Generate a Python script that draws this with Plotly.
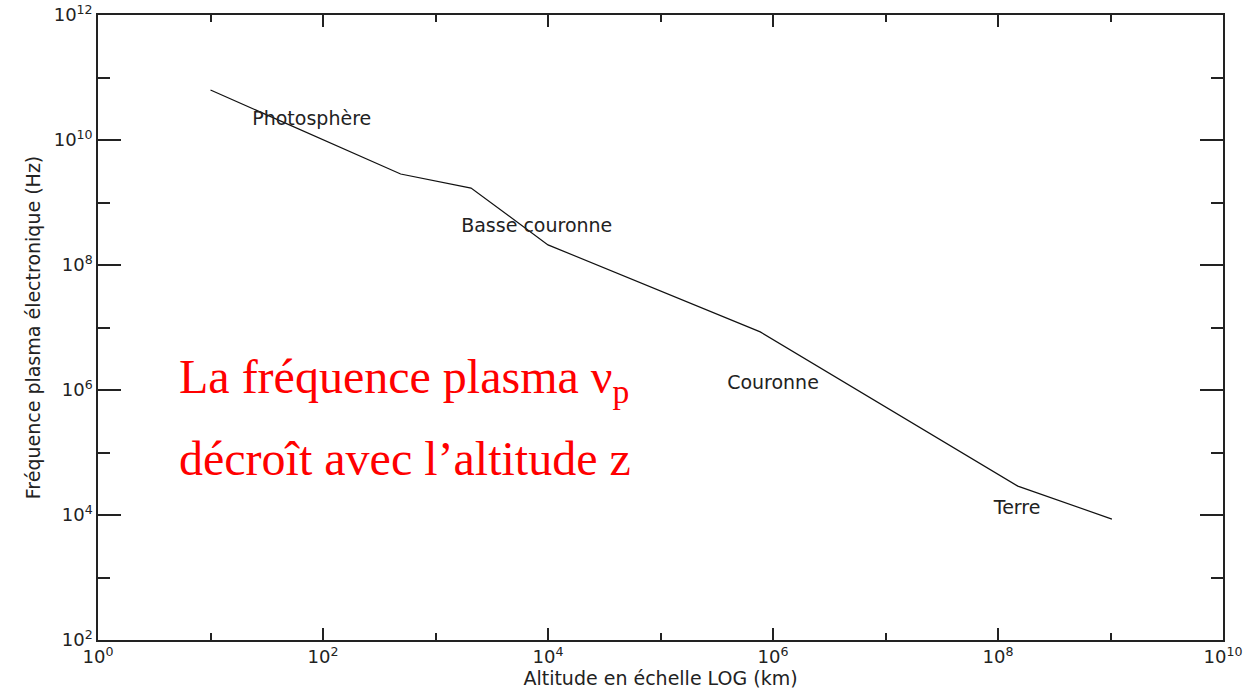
import plotly.graph_objects as go

# Data: altitude (km) vs electron plasma frequency (Hz)
altitude_km = [10, 490, 2070, 1.0e4, 7.7e5, 1.5e8, 1.03e9]
freq_hz = [6.3e10, 2.86e9, 1.7e9, 2.1e8, 8.5e6, 2.9e4, 8.6e3]

region_labels = ["Photosphère", "Basse couronne", "Couronne", "Terre"]
region_x = [10**1.9, 10**3.9, 10**6.0, 10**8.17]
region_y = [10**10.32, 10**8.61, 10**6.1, 10**4.1]

x_major = [1e0, 1e2, 1e4, 1e6, 1e8, 1e10]
x_major_text = ["10<sup>0</sup>", "10<sup>2</sup>", "10<sup>4</sup>", "10<sup>6</sup>",
                "10<sup>8</sup>", "10<sup>10</sup>"]
x_minor = [1e1, 1e3, 1e5, 1e7, 1e9]
y_major = [1e2, 1e4, 1e6, 1e8, 1e10, 1e12]
y_major_text = ["10<sup>2</sup>", "10<sup>4</sup>", "10<sup>6</sup>", "10<sup>8</sup>",
                "10<sup>10</sup>", "10<sup>12</sup>"]
y_minor = [1e3, 1e5, 1e7, 1e9, 1e11]

axis_font = dict(family="DejaVu Sans", size=19, color="#222222")

fig = go.Figure()
fig.add_trace(go.Scatter(x=altitude_km, y=freq_hz, mode="lines",
                         line=dict(color="#111111", width=1.2), showlegend=False,
                         hoverinfo="skip"))
fig.add_trace(go.Scatter(x=region_x, y=region_y, mode="text", text=region_labels,
                         textposition="middle center",
                         textfont=dict(family="DejaVu Sans", size=19, color="#222222"),
                         showlegend=False, hoverinfo="skip"))

fig.add_annotation(xref="paper", yref="paper", x=0.070, y=0.365, xanchor="left", yanchor="bottom",
                   text="La fréquence plasma ν<sub>p</sub>", showarrow=False,
                   font=dict(family="Liberation Serif", size=48, color="#ff0000"))
fig.add_annotation(xref="paper", yref="paper", x=0.070, y=0.245, xanchor="left", yanchor="bottom",
                   text="décroît avec l’altitude z", showarrow=False,
                   font=dict(family="Liberation Serif", size=48, color="#ff0000"))

common = dict(showline=True, linecolor="#222222", linewidth=1.5, mirror="ticks",
              showgrid=False, zeroline=False, ticks="inside", tickcolor="#222222",
              tickwidth=1.5, tickfont=dict(family="DejaVu Sans", size=18, color="#222222"),
              tickmode="array", automargin=False, ticklabeloverflow="allow")

fig.update_xaxes(type="log", range=[0, 10], tickvals=x_major, ticktext=x_major_text,
                 ticklen=12,
                 minor=dict(tickmode="array", tickvals=x_minor, ticks="inside", ticklen=7,
                            tickcolor="#222222", tickwidth=1.5, showgrid=False),
                 title=dict(text="Altitude en échelle LOG (km)", font=axis_font, standoff=2),
                 **common)
fig.update_yaxes(type="log", range=[2, 12], tickvals=y_major, ticktext=y_major_text,
                 ticklen=23,
                 minor=dict(tickmode="array", tickvals=y_minor, ticks="inside", ticklen=12,
                            tickcolor="#222222", tickwidth=1.5, showgrid=False),
                 title=dict(text="Fréquence plasma électronique (Hz)", font=axis_font, standoff=8),
                 **common)

fig.update_layout(width=1245, height=693, margin=dict(l=98, r=22, t=15, b=53),
                  plot_bgcolor="white", paper_bgcolor="white")

# remove the default page margin so the figure fills the window exactly
fig.write_html("out.html", config={"displayModeBar": False},
               post_script="document.body.style.margin='0';")
